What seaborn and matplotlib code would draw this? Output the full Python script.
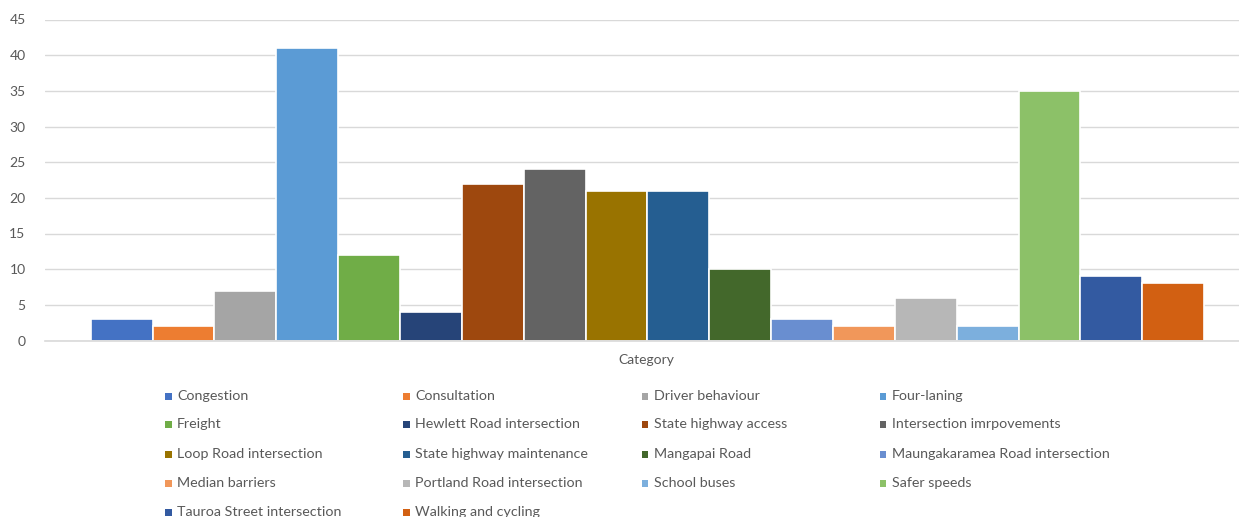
import matplotlib
matplotlib.use('Agg')
import matplotlib.pyplot as plt
from matplotlib.patches import Rectangle
import seaborn as sns
import pandas as pd

labels = [
    "Congestion", "Consultation", "Driver behaviour", "Four-laning",
    "Freight", "Hewlett Road intersection", "State highway access", "Intersection imrpovements",
    "Loop Road intersection", "State highway maintenance", "Mangapai Road", "Maungakaramea Road intersection",
    "Median barriers", "Portland Road intersection", "School buses", "Safer speeds",
    "Tauroa Street intersection", "Walking and cycling",
]
values = [3, 2, 7, 41, 12, 4, 22, 24, 21, 21, 10, 3, 2, 6, 2, 35, 9, 8]
colors = [
    "#4472C4", "#ED7D31", "#A5A5A5", "#5B9BD5",
    "#70AD47", "#264478", "#9E480E", "#636363",
    "#997300", "#255E91", "#43682B", "#698ED0",
    "#F1975A", "#B7B7B7", "#7CAFDD", "#8CC168",
    "#335AA1", "#D26012",
]
y_ticks = [0, 5, 10, 15, 20, 25, 30, 35, 40, 45]

sns.set_style("white")
plt.rcParams['font.family'] = ['Lato', 'DejaVu Sans']

df = pd.DataFrame({"label": labels, "value": values})

W, H = 1239, 517
fig = plt.figure(figsize=(W / 100, H / 100), dpi=100)
ax = fig.add_axes([45 / W, (H - 340.5) / H, (W - 45) / W, (340.5 - 19.5) / H])

sns.barplot(data=df, x="label", y="value", hue="label", order=labels, hue_order=labels,
            palette=colors, saturation=1, width=1.0, edgecolor="white", linewidth=1.2,
            legend=False, ax=ax)

ax.set_xlim(-1.24, 17 + 66 / 62)
ax.set_ylim(0, 45)
ax.set_yticks(y_ticks)
ax.set_axisbelow(True)
ax.yaxis.grid(True, color="#D9D9D9", linewidth=1)
ax.tick_params(axis="y", length=0, labelsize=10, labelcolor="#595959", pad=14)
ax.set_xticks([])
ax.set_xlabel("")
ax.set_ylabel("")
for side in ["top", "right", "left"]:
    ax.spines[side].set_visible(False)
ax.spines["bottom"].set_color("#D9D9D9")
ax.spines["bottom"].set_linewidth(1.2)

fig.text(646 / W, 1 - 360 / H, "Category", ha="center", va="center",
         fontsize=10, color="#595959")

# legend laid out row-major like Excel
col_x = [168, 406, 645, 883]
row_y = [396, 424, 454, 483, 512]
for i, (lab, col) in enumerate(zip(labels, colors)):
    r, c = divmod(i, 4)
    x = col_x[c]
    y = row_y[r]
    fig.patches.append(Rectangle(((x - 3.5) / W, 1 - (y + 3.5) / H), 7 / W, 7 / H,
                                 transform=fig.transFigure, facecolor=col, edgecolor="none"))
    fig.text((x + 9) / W, 1 - y / H, lab, ha="left", va="center",
             fontsize=10.3, color="#595959")

fig.savefig("out.png", dpi=100)
